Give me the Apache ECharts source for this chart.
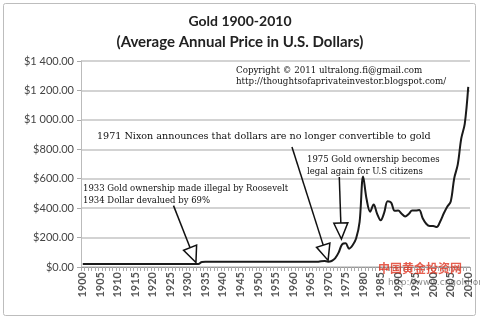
<!DOCTYPE html>
<html><head><meta charset="utf-8">
<script src="https://cdn.jsdelivr.net/npm/echarts@6/dist/echarts.min.js"></script>
<style>html,body{margin:0;padding:0;background:#fff}#c{width:480px;height:321px}</style>
</head><body><div id="c"></div>
<script>
var years = [1900,1901,1902,1903,1904,1905,1906,1907,1908,1909,1910,1911,1912,1913,1914,1915,1916,1917,1918,1919,1920,1921,1922,1923,1924,1925,1926,1927,1928,1929,1930,1931,1932,1933,1934,1935,1936,1937,1938,1939,1940,1941,1942,1943,1944,1945,1946,1947,1948,1949,1950,1951,1952,1953,1954,1955,1956,1957,1958,1959,1960,1961,1962,1963,1964,1965,1966,1967,1968,1969,1970,1971,1972,1973,1974,1975,1976,1977,1978,1979,1980,1981,1982,1983,1984,1985,1986,1987,1988,1989,1990,1991,1992,1993,1994,1995,1996,1997,1998,1999,2000,2001,2002,2003,2004,2005,2006,2007,2008,2009,2010];
var prices1900to1933 = [20.67,20.67,20.67,20.67,20.67,20.67,20.67,20.67,20.67,20.67,20.67,20.67,20.67,20.67,20.67,20.67,20.67,20.67,20.67,20.67,20.67,20.67,20.67,20.67,20.67,20.67,20.67,20.67,20.67,20.67,20.67,20.67,20.67,20.67];
var prices1934to1967 = [34.69,35,35,35,35,35,35,35,35,35,35,35,35,35,35,35,35,35,35,35,35,35,35,35,35,35,35.27,35.25,35.09,35.05,35.10,35.12,35.15,35.19];
var prices1968to2010 = [39.31,41.28,36.02,40.62,58.42,97.39,154.00,160.86,124.74,147.84,193.40,306.00,615.00,460.00,375.80,424.00,361.00,317.00,367.50,446.50,436.90,381.50,383.50,362.10,343.80,359.77,384.00,383.79,387.81,331.02,294.24,278.98,279.11,271.04,309.73,363.38,409.72,444.74,603.46,695.39,871.96,972.35,1224.53];
var yTicks = [0,200,400,600,800,1000,1200,1400];
var titleLines = ['Gold 1900-2010','(Average Annual Price in U.S. Dollars)'];
var prices = prices1900to1933.concat(prices1934to1967, prices1968to2010);

var chart = echarts.init(document.getElementById('c'));
var serif = '"DejaVu Serif", "Liberation Serif", serif';
var option = {
  animation:false,
  backgroundColor:'#fff',
  grid:{left:81,right:10,top:61,bottom:54,containLabel:false},
  xAxis:{type:'category',data:years,boundaryGap:true,
    axisLine:{show:true,lineStyle:{color:'#999',width:1}},
    axisTick:{show:true,interval:0,length:4,lineStyle:{color:'#aaa'}},
    axisLabel:{interval:4,rotate:90,fontFamily:'Lato',fontWeight:'bold',fontSize:11,color:'#555',margin:5}
  },
  yAxis:{type:'value',min:0,max:1400,interval:200,
    axisLine:{show:true,lineStyle:{color:'#bbb'}},
    axisTick:{show:true,length:4,lineStyle:{color:'#aaa'}},
    splitLine:{lineStyle:{color:'#c4c4c4',width:1.5}},
    axisLabel:{fontFamily:'Lato',fontSize:11,color:'#444',margin:7,
      formatter:function(v){var s=v.toFixed(0); if(v>=1000){s=s.slice(0,s.length-3)+' '+s.slice(-3);} return '$'+s+'.00';}}
  },
  series:[{type:'line',data:prices,smooth:0.35,symbol:'none',
    lineStyle:{color:'#1a1a1a',width:2}}],
  graphic:[]
};
chart.setOption(option);

function px(yearF,val){
  var i0=Math.floor(yearF-1900), f=(yearF-1900)-i0;
  var a=chart.convertToPixel({gridIndex:0},[i0,val]);
  var b=chart.convertToPixel({gridIndex:0},[i0+1,val]);
  return [a[0]+(b[0]-a[0])*f,a[1]];
}
var arrows=[
  [[1925.9,417],[1932.3,30]],
  [[1959.7,815],[1970.0,45]],
  [[1973.2,612],[1973.8,190]]
];
var g=[];
g.push({type:'rect',shape:{x:3.5,y:3.5,width:472,height:312,r:2},style:{fill:'none',stroke:'#bdbdbd',lineWidth:1},z:0});
g.push({type:'text',left:'center',top:14,style:{text:titleLines[0],font:'bold 14px Lato',fill:'#222'}});
g.push({type:'text',left:'center',top:35,style:{text:titleLines[1],font:'bold 15px Lato',fill:'#222'}});
var texts=[
  ['Copyright \u00a9 2011 ultralong.fi@gmail.com',236,66,8.7],
  ['http://thoughtsofaprivateinvestor.blogspot.com/',236,77,8.7],
  ['1971 Nixon announces that dollars are no longer convertible to gold',97,131,9.6],
  ['1975 Gold ownership becomes',307,155,8.5],
  ['legal again for U.S citizens',307,167,8.5],
  ['1933 Gold ownership made illegal by Roosevelt',83,184,8.5],
  ['1934 Dollar devalued by 69%',83,196,8.5]
];
texts.forEach(function(t){
  g.push({type:'text',x:t[1],y:t[2],style:{text:t[0],font:t[3]+'px '+serif,fill:'#111'},z:10});
});
arrows.forEach(function(a){
  var s=px(a[0][0],a[0][1]), e=px(a[1][0],a[1][1]);
  var dx=e[0]-s[0], dy=e[1]-s[1], L=Math.sqrt(dx*dx+dy*dy), ux=dx/L, uy=dy/L;
  var hl=16, hw=7;
  var bx=e[0]-ux*hl, by=e[1]-uy*hl;
  g.push({type:'line',shape:{x1:s[0],y1:s[1],x2:bx,y2:by},style:{stroke:'#111',lineWidth:1.5},z:20});
  g.push({type:'polygon',shape:{points:[[e[0],e[1]],[bx-uy*hw,by+ux*hw],[bx+uy*hw,by-ux*hw]]},style:{fill:'#fff',stroke:'#111',lineWidth:1.5},z:20});
});
g.push({type:'text',x:378,y:262,style:{text:'中国黄金投资网',font:'bold 12px "Noto Sans CJK SC"',fill:'rgba(220,40,20,0.75)'},z:30});
g.push({type:'text',x:388,y:278,style:{text:'http://www.cngold.org',font:'9px "DejaVu Sans"',fill:'rgba(60,60,60,0.6)'},z:30});
chart.setOption({graphic:g});
</script></body></html>
